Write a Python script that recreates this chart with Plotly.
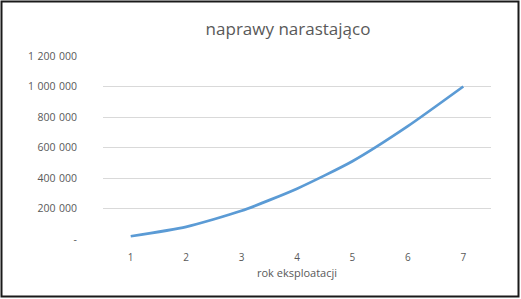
import plotly.graph_objects as go

years = ["1", "2", "3", "4", "5", "6", "7"]
values = [18000, 80000, 185000, 330000, 510000, 740000, 1000000]
ytick_vals = [0, 200000, 400000, 600000, 800000, 1000000, 1200000]
ytick_text = ["-", "200\u2004000", "400\u2004000", "600\u2004000", "800\u2004000",
              "1\u2004000\u2004000", "1\u2004200\u2004000"]

W, H = 521, 299
L, R, T, B = 103, 30, 56, 60
pw, ph = W - L - R, H - T - B

fig = go.Figure()
fig.add_trace(go.Scatter(
    x=years, y=values, mode="lines",
    line=dict(color="#5b9bd5", width=2.75, shape="spline", smoothing=0.6),
    hoverinfo="skip", showlegend=False,
))

gray = "#595959"
fig.update_layout(
    width=W, height=H,
    margin=dict(l=L, r=R, t=T, b=B),
    paper_bgcolor="white", plot_bgcolor="white",
    font=dict(family="Open Sans, sans-serif", color=gray, size=10),
    title=dict(text="naprawy narastająco", x=288 / W, xanchor="center",
               y=1 - 29 / H, yanchor="middle",
               font=dict(size=17, color=gray, family="Open Sans, sans-serif")),
    xaxis=dict(type="category", range=[-0.5, 6.5], showgrid=False, zeroline=False,
               showline=False, ticks="", tickfont=dict(size=10, color=gray),
               ticklabelstandoff=11,
               title=dict(text="rok eksploatacji", font=dict(size=11, color=gray), standoff=6)),
    yaxis=dict(range=[0, 1200000], tickvals=ytick_vals, ticktext=ytick_text,
               showgrid=True, gridcolor="#d9d9d9", gridwidth=1,
               zeroline=False, showline=False, ticks="",
               tickfont=dict(size=10.5, color=gray), ticklabelstandoff=25),
)

fig.add_shape(type="rect", xref="paper", yref="paper",
              x0=-(L - 1.5) / pw, x1=1 + (R - 2.5) / pw,
              y0=-(B - 2.5) / ph, y1=1 + (T - 1.5) / ph,
              line=dict(color="#1a1a1a", width=2), fillcolor="rgba(0,0,0,0)", layer="above")

fig.write_html("out.html")
